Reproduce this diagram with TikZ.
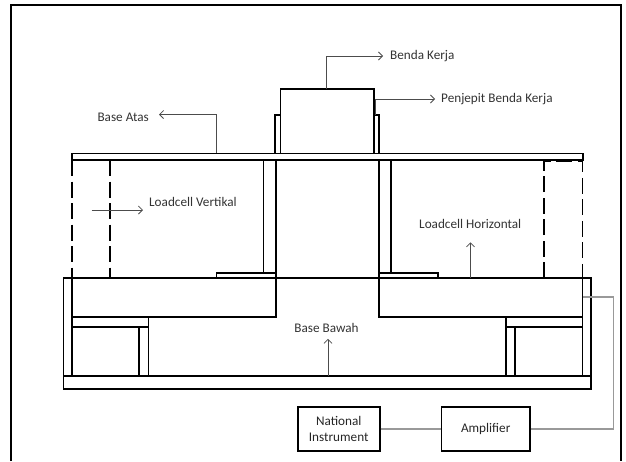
\documentclass[tikz,border=0pt]{standalone}
\usepackage{fontspec}
\setmainfont{Carlito}
\usetikzlibrary{arrows.meta}

\tikzset{
  part/.style={black,line width=1.7pt},
  loadcell/.style={black,line width=1.7pt,dash pattern=on 16pt off 5.5pt},
  lead/.style={black!70,line width=.8pt,-{Straight Barb[length=4pt,width=8pt]}},
  wire/.style={black!40,line width=1.2pt},
  label/.style={black!80,font=\fontsize{13.2}{15}\selectfont,inner sep=0pt},
  unit/.style={draw=black,line width=1.7pt,text=black!85,font=\fontsize{13.2}{16}\selectfont,align=center,inner sep=0pt,minimum height=43.5pt}
}

\begin{document}
\begin{tikzpicture}[x=1pt,y=-1pt]
  \useasboundingbox (0,0) rectangle (626,461);
  \draw[part] (11,461) -- (11,5.3) -- (621,5.3) -- (621,461);

  \draw[part] (72,153.5) rectangle (583,160);
  \draw[part] (280.5,153.5) rectangle (374,89);
  \draw[part] (280.5,153.5) -- (275,153.5) -- (275,115) -- (280.5,115);
  \draw[part] (374,153.5) -- (379,153.5) -- (379,115) -- (374,115);

  \draw[part] (263.5,160) rectangle (276,273);
  \draw[part] (378.7,160) rectangle (391,273);
  \draw[part] (216.5,278) rectangle (276,273);
  \draw[part] (378.7,278) rectangle (438,273);

  \draw[loadcell] (72,160) -- (72,278);
  \draw[loadcell] (110,160) -- (110,278);
  \draw[loadcell] (544.3,278) -- (544.3,161) -- (582.5,161) -- (582.5,278);

  \draw[part] (63.5,376) rectangle (590.7,389);
  \draw[part] (63.5,376) -- (63.5,278) -- (590.7,278) -- (590.7,376);
  \draw[part] (72,278) rectangle (276,316.7);
  \draw[part] (378.7,278) rectangle (582.5,316.7);
  \draw[part] (72,316.7) -- (72,376);
  \draw[part] (582.5,316.7) -- (582.5,376);
  \draw[part] (72,326.7) -- (148.5,326.7);
  \draw[part] (148.5,316.7) -- (148.5,376);
  \draw[part] (139,326.7) -- (139,376);
  \draw[part] (582.5,326.7) -- (505.7,326.7);
  \draw[part] (505.7,316.7) -- (505.7,376);
  \draw[part] (515.3,326.7) -- (515.3,376);

  \node[label,anchor=west] (bendakerja) at (390,56) {Benda Kerja};
  \node[label,anchor=west] (penjepit) at (441,99) {Penjepit Benda Kerja};
  \node[label,anchor=east] (baseatas) at (149,117) {Base Atas};
  \node[label,anchor=west] (lcvertikal) at (149,202) {Loadcell Vertikal};
  \node[label,anchor=west] (lchorizontal) at (419,223.5) {Loadcell Horizontal};
  \node[label] (basebawah) at (326.5,328) {Base Bawah};

  \coordinate (bendatop) at (326.5,89);
  \coordinate (penjepittop) at (375.7,115);
  \coordinate (atastop) at (216.5,153);
  \coordinate (lcvstart) at (91.5,210);
  \coordinate (lcvend) at (143,210);
  \coordinate (lchstart) at (470.5,278);
  \coordinate (bbstart) at (328,376);

  \draw[lead] (bendatop) |- ([xshift=-7pt]bendakerja.west);
  \draw[lead] (penjepittop) |- ([xshift=-6pt]penjepit.west);
  \draw[lead] (atastop) |- ([xshift=10pt,yshift=2.5pt]baseatas.east);
  \draw[lead] (lcvstart) -- (lcvend);
  \draw[lead] (lchstart) -- ([yshift=-14pt]lchstart |- lchorizontal.south);
  \draw[lead] (bbstart) -- ([yshift=-6pt]bbstart |- basebawah.south);

  \node[unit,minimum width=82pt] (nationalinst) at (338.7,429) {National\\Instrument};
  \node[unit,minimum width=88.7pt] (amplifier) at (485.7,429) {Amplifier};
  \coordinate (wirebend) at (613.3,297);
  \coordinate (wireend) at (583.2,297);

  \draw[wire] (nationalinst) -- (amplifier);
  \draw[wire] (amplifier.east) -| (wirebend) -- (wireend);
\end{tikzpicture}
\end{document}
